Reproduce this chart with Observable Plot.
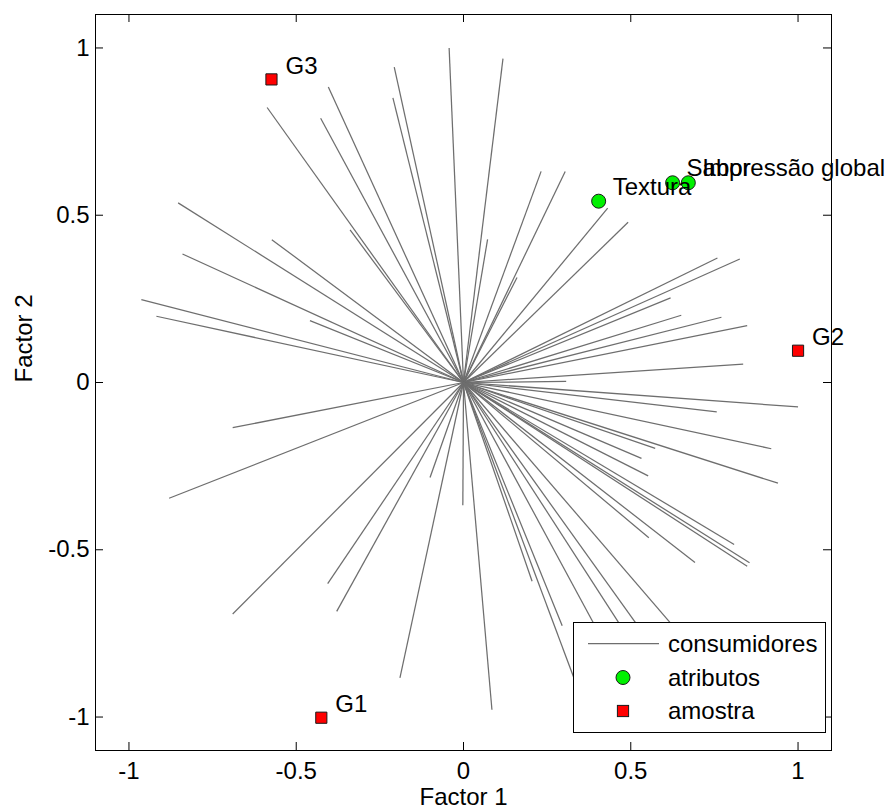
<!DOCTYPE html>
<html>
<head>
<meta charset="utf-8">
<script src="https://cdn.jsdelivr.net/npm/d3@7"></script>
<script src="https://cdn.jsdelivr.net/npm/@observablehq/plot@0.6"></script>
<style>
  html, body { margin: 0; padding: 0; background: #fff; }
  #wrap { position: relative; width: 888px; height: 810px; font-family: "Liberation Sans", Arial, sans-serif; }
  #legend { position: absolute; left: 573px; top: 622px; }
</style>
</head>
<body>
<div id="wrap"></div>
<script>
// Consumer loading endpoints (lines drawn from origin)
const consumerX = [
  -0.587, -0.404, -0.427, -0.207, -0.211, -0.043, -0.339, -0.853, -0.573, -0.840, -0.963, -0.918, -0.459,
  0.118, 0.232, 0.304, 0.072, 0.160, 0.431, 0.492, 0.759, 0.826, 0.619, 0.651, 0.771, 0.848, 0.836, 0.307,
  -0.690, -0.880, -0.690, -0.406, -0.379, -0.190, -0.100, -0.002,
  1.000, 0.757, 0.920, 0.940, 0.573, 0.532, 0.552, 0.554, 0.809, 0.855, 0.848, 0.692, 0.205, 0.295, 0.085,
  0.370, 0.470, 0.530, 0.580, 0.680
];
const consumerY = [
  0.822, 0.883, 0.790, 0.943, 0.851, 1.000, 0.456, 0.537, 0.427, 0.384, 0.248, 0.198, 0.185,
  0.968, 0.631, 0.631, 0.428, 0.314, 0.521, 0.479, 0.372, 0.369, 0.253, 0.201, 0.195, 0.170, 0.055, 0.003,
  -0.135, -0.346, -0.692, -0.601, -0.684, -0.883, -0.284, -0.367,
  -0.073, -0.088, -0.198, -0.301, -0.197, -0.227, -0.279, -0.464, -0.484, -0.539, -0.549, -0.538, -0.594, -0.727, -0.978,
  -0.990, -0.870, -0.820, -0.810, -0.790
];

// Attributes
const attrNames = ["Textura", "Sabor", "Impressão global"];
const attrX = [0.404, 0.625, 0.672];
const attrY = [0.542, 0.597, 0.597];

// Samples
const sampleNames = ["G1", "G2", "G3"];
const sampleX = [-0.425, 1.000, -0.574];
const sampleY = [-1.002, 0.095, 0.906];

// Axes
const xTicks = [-1, -0.5, 0, 0.5, 1];
const yTicks = [-1, -0.5, 0, 0.5, 1];
const xLabel = "Factor 1";
const yLabel = "Factor 2";
const legendLabels = ["consumidores", "atributos", "amostra"];

const consumers = consumerX.map((x, i) => ({x, y: consumerY[i]}));
const attrs = attrNames.map((name, i) => ({name, x: attrX[i], y: attrY[i]}));
const samples = sampleNames.map((name, i) => ({name, x: sampleX[i], y: sampleY[i]}));

const lineColor = "#6e6e6e";
const green = "#00f000";
const red = "#ff0000";
const FS = 24;

const chart = Plot.plot({
  width: 888,
  height: 810,
  marginLeft: 95,
  marginRight: 57,
  marginTop: 14,
  marginBottom: 60,
  style: {
    fontFamily: '"Liberation Sans", Arial, sans-serif',
    fontSize: FS + "px",
    color: "#000",
    background: "#fff",
    overflow: "visible"
  },
  x: {domain: [-1.1, 1.1], ticks: xTicks, tickFormat: d => String(d), tickSize: 0, tickPadding: 11, label: null},
  y: {domain: [-1.1, 1.1], ticks: yTicks, tickFormat: d => String(d), tickSize: 0, tickPadding: 6, label: null},
  marks: [
    Plot.link(consumers, {x1: () => 0, y1: () => 0, x2: "x", y2: "y", stroke: lineColor, strokeWidth: 1.25}),
    Plot.dot(attrs, {x: "x", y: "y", r: 7, fill: green, stroke: "#1a1a1a", strokeWidth: 1}),
    Plot.text(attrs, {x: "x", y: "y", text: "name", textAnchor: "start", lineAnchor: "middle", dx: 14, dy: -14, fill: "#000"}),
    Plot.dot(samples, {x: "x", y: "y", symbol: "square", r: 6.3, fill: red, stroke: "#1a1a1a", strokeWidth: 1}),
    Plot.text(samples, {x: "x", y: "y", text: "name", textAnchor: "start", lineAnchor: "middle", dx: 14, dy: -13, fill: "#000"}),
    // inward tick marks on all four sides
    Plot.tickX(xTicks, {x: d => d, insetTop: 728, stroke: "#000"}),
    Plot.tickX(xTicks, {x: d => d, insetBottom: 728, stroke: "#000"}),
    Plot.tickY(yTicks, {y: d => d, insetRight: 728, stroke: "#000"}),
    Plot.tickY(yTicks, {y: d => d, insetLeft: 728, stroke: "#000"}),
    Plot.frame({stroke: "#000", strokeWidth: 1}),
    Plot.text([xLabel], {text: d => d, frameAnchor: "bottom", lineAnchor: "middle", dy: 47, fill: "#000"}),
    Plot.text([yLabel], {text: d => d, frameAnchor: "left", rotate: -90, lineAnchor: "middle", dx: -71, fill: "#000"})
  ]
});

const wrap = document.getElementById("wrap");
wrap.appendChild(chart);

// Legend (opaque box inside the plot area)
const W = 254, H = 112;
const lg = d3.select(wrap).append("svg")
  .attr("id", "legend")
  .attr("width", W).attr("height", H)
  .style("font-family", '"Liberation Sans", Arial, sans-serif')
  .style("font-size", FS + "px");
lg.append("rect").attr("x", 0.5).attr("y", 0.5).attr("width", W - 2).attr("height", H - 2)
  .attr("fill", "#fff").attr("stroke", "#000").attr("stroke-width", 1);
const rowY = [21.5, 55.5, 89];
lg.append("line").attr("x1", 15).attr("x2", 86).attr("y1", rowY[0]).attr("y2", rowY[0])
  .attr("stroke", lineColor).attr("stroke-width", 1.25);
lg.append("circle").attr("cx", 50).attr("cy", rowY[1]).attr("r", 7)
  .attr("fill", green).attr("stroke", "#1a1a1a");
lg.append("rect").attr("x", 50 - 5.6).attr("y", rowY[2] - 5.6).attr("width", 11.2).attr("height", 11.2)
  .attr("fill", red).attr("stroke", "#1a1a1a");
lg.selectAll("text.lab").data(legendLabels).join("text")
  .attr("class", "lab")
  .attr("x", 95)
  .attr("y", (d, i) => rowY[i])
  .attr("dy", "0.35em")
  .attr("fill", "#000")
  .text(d => d);
</script>
</body>
</html>
